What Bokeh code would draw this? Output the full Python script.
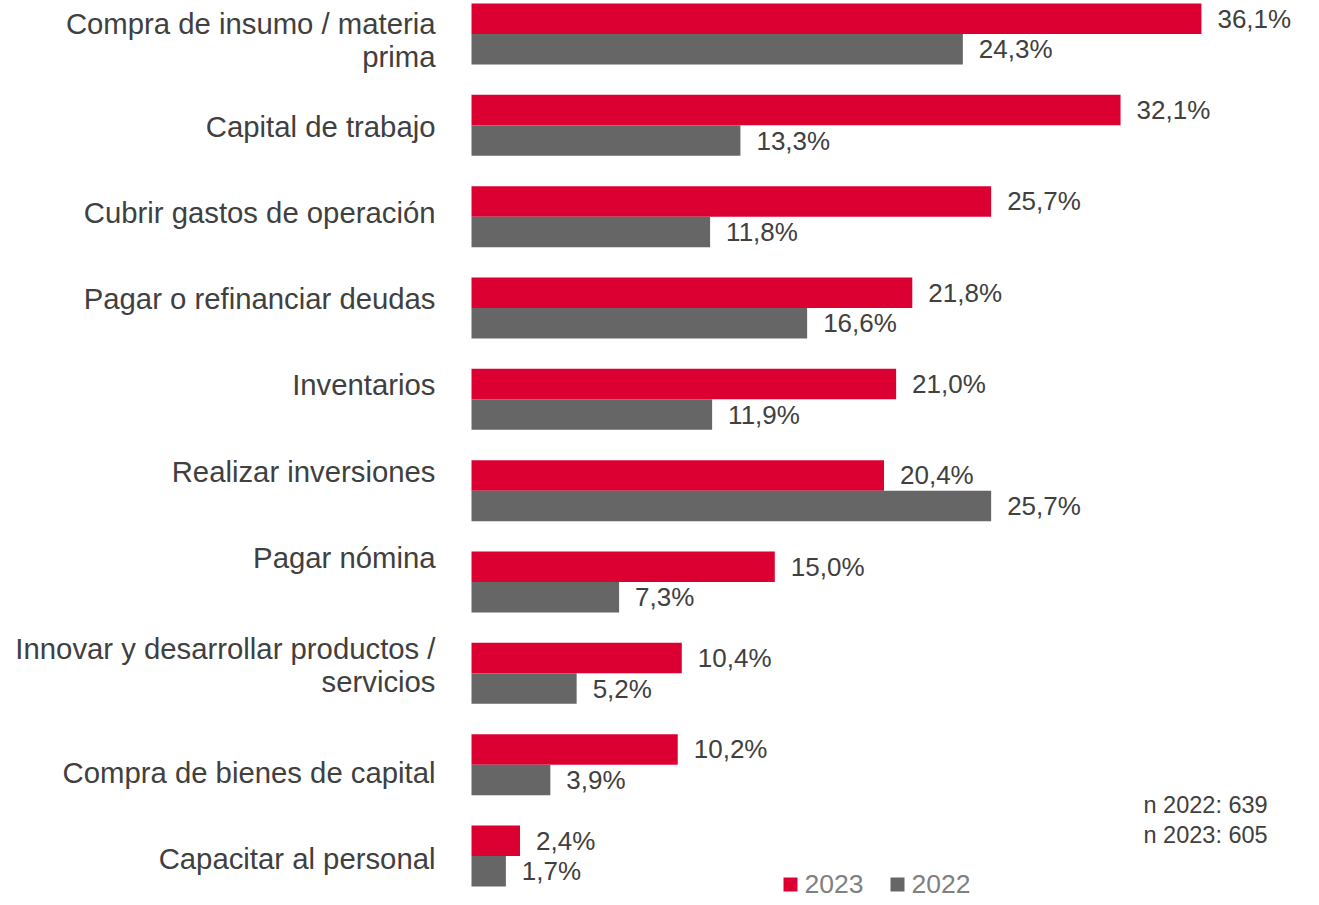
from bokeh.plotting import figure
from bokeh.models import Range1d, ColumnDataSource
from bokeh.core.properties import value
from bokeh.embed import file_html
from bokeh.resources import INLINE

# ---------------- data ----------------
categories = [
    "Compra de insumo / materia\nprima",
    "Capital de trabajo",
    "Cubrir gastos de operación",
    "Pagar o refinanciar deudas",
    "Inventarios",
    "Realizar inversiones",
    "Pagar nómina",
    "Innovar y desarrollar productos /\nservicios",
    "Compra de bienes de capital",
    "Capacitar al personal",
]
values_2023 = [36.1, 32.1, 25.7, 21.8, 21.0, 20.4, 15.0, 10.4, 10.2, 2.4]
values_2022 = [24.3, 13.3, 11.8, 16.6, 11.9, 25.7, 7.3, 5.2, 3.9, 1.7]
series_names = ["2023", "2022"]
sample_notes = ["n 2022: 639", "n 2023: 605"]

# ---------------- layout ----------------
W, H = 1311, 897
FONT = "Liberation Sans"
RED = "#DC0032"
GRAY = "#666666"
TXT = "#404040"

PX_PER_PCT = 20.22       # horizontal scale
ZERO_PX = 471            # px where 0% sits
GROUP_PX = 91.33         # vertical pitch between category groups
FIRST_CENTER_PX = 33.5   # px of centre of first group
BAR_H = 30.5 / GROUP_PX  # bar thickness in group units

def dx(px):
    return (px - ZERO_PX) / PX_PER_PCT

def dy(px):
    return (px - FIRST_CENTER_PX) / GROUP_PX

p = figure(width=W, height=H, output_backend="svg", toolbar_location=None,
           x_range=Range1d(dx(0), dx(W)),
           y_range=Range1d(dy(H), dy(0)),
           min_border=0, outline_line_color=None, background_fill_color="white")
p.axis.visible = False
p.grid.visible = False

n = len(categories)
idx = list(range(n))
src = ColumnDataSource(dict(
    y23=[i - BAR_H / 2 for i in idx],
    y22=[i + BAR_H / 2 for i in idx],
    v23=values_2023,
    v22=values_2022,
    lab23=[f"{v:.1f}".replace(".", ",") + "%" for v in values_2023],
    lab22=[f"{v:.1f}".replace(".", ",") + "%" for v in values_2022],
    x23=[v + 16 / PX_PER_PCT for v in values_2023],
    x22=[v + 16 / PX_PER_PCT for v in values_2022],
))

p.hbar(y="y23", left=0, right="v23", height=BAR_H, color=RED, line_color=None, source=src)
p.hbar(y="y22", left=0, right="v22", height=BAR_H, color=GRAY, line_color=None, source=src)

for xcol, ycol, tcol in (("x23", "y23", "lab23"), ("x22", "y22", "lab22")):
    p.text(x=xcol, y=ycol, text=tcol, source=src, text_font=value(FONT),
           text_font_size="26px", text_color=TXT, text_align="left",
           text_baseline="middle")

# category labels (right aligned, multi-line labels split by line)
LINE_H = 33
PITCH = 86.2
lx, ly, lt = [], [], []
extra = 0.0
for i, cat in enumerate(categories):
    lines = cat.split("\n")
    nl = len(lines)
    base = 39.5 + PITCH * i + extra
    if i > 0:
        base += 21.5 * (nl - 1)
        extra += 43 * (nl - 1)
    for k, line in enumerate(lines):
        cy = base + LINE_H * k - LINE_H / 2 * (nl - 1)
        lx.append(dx(435))
        ly.append(dy(cy))
        lt.append(line)
p.text(x=lx, y=ly, text=lt, text_font=value(FONT), text_font_size="29.3px",
       text_color=TXT, text_align="right", text_baseline="middle")

# sample size notes
p.text(x=[dx(1143)] * 2, y=[dy(804.5), dy(834.5)], text=sample_notes,
       text_font=value(FONT), text_font_size="23.5px", text_color=TXT,
       text_align="left", text_baseline="middle")

# legend
p.scatter(x=[dx(790), dx(897)], y=[dy(884)] * 2, marker="square", size=14,
          color=[RED, GRAY], line_color=None)
p.text(x=[dx(804), dx(911)], y=[dy(883)] * 2, text=series_names,
       text_font=value(FONT), text_font_size="26.5px", text_color="#808080",
       text_align="left", text_baseline="middle")

open("out.html", "w").write(file_html(p, INLINE))
